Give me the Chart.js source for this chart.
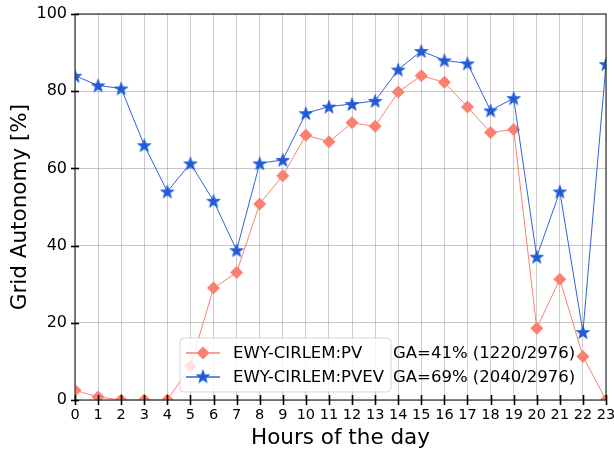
<!DOCTYPE html>
<html>
<head>
<meta charset="utf-8">
<script src="https://cdn.jsdelivr.net/npm/chart.js@4"></script>
<style>
    html, body { margin: 0; padding: 0; background: #fff; }
    #wrap { width: 614px; height: 453px; }
</style>
</head>
<body>
<div id="wrap"><canvas id="ga-chart" width="614" height="453"></canvas></div>
<script>
const hours = ['0', '1', '2', '3', '4', '5', '6', '7', '8', '9', '10', '11', '12', '13', '14', '15', '16', '17', '18', '19', '20', '21', '22', '23'];
const pvValues = [2.5, 0.8, 0, 0, 0, 8.8, 29, 33, 50.8, 58.1, 68.6, 66.9, 71.8, 70.9, 79.8, 84, 82.3, 75.9, 69.3, 70.1, 18.6, 31.3, 11.3, 0];
const pvevValues = [84, 81.5, 80.7, 66, 54, 61.3, 51.6, 38.8, 61.3, 62.2, 74.3, 76, 76.7, 77.5, 85.6, 90.4, 88, 87.2, 75, 78.2, 37.1, 54, 17.6, 87];
const seriesNames = ['EWY-CIRLEM:PV', 'EWY-CIRLEM:PVEV'];
const gaNotes = ['GA=41% (1220/2976)', 'GA=69% (2040/2976)'];

const FONT = 'DejaVu Sans, sans-serif';
const salmon = '#fa8072';
const blue = '#1f5bd6';
const blueLine = '#2f63d8';

function starPath(ctx, cx, cy, R) {
    const r = R * 0.4;
    ctx.beginPath();
    for (let i = 0; i < 10; i++) {
        const rad = i % 2 === 0 ? R : r;
        const a = -Math.PI / 2 + i * Math.PI / 5;
        const px = cx + rad * Math.cos(a);
        const py = cy + rad * Math.sin(a);
        if (i === 0) ctx.moveTo(px, py); else ctx.lineTo(px, py);
    }
    ctx.closePath();
}

function makeStar(R) {
    const c = document.createElement('canvas');
    c.width = c.height = Math.ceil(R * 2 + 4);
    const g = c.getContext('2d');
    starPath(g, c.width / 2, c.height / 2 + R * 0.1, R);
    g.fillStyle = blue;
    g.fill();
    g.lineWidth = 0.8;
    g.strokeStyle = blue;
    g.stroke();
    return c;
}
const starImg = makeStar(7);

// frame, centred tick marks and the legend box with the GA figures
const decorations = {
    id: 'decorations',
    afterDatasetsDraw(chart) {
        const { ctx, chartArea: a, scales } = chart;
        ctx.save();
        ctx.strokeStyle = '#333';
        ctx.lineWidth = 1.2;
        ctx.strokeRect(a.left, a.top, a.right - a.left, a.bottom - a.top);

        ctx.strokeStyle = '#000';
        ctx.lineWidth = 1.6;
        scales.x.ticks.forEach((t, i) => {
            const px = Math.round(scales.x.getPixelForTick(i)) + 0.5;
            ctx.beginPath();
            ctx.moveTo(px, a.bottom - 5);
            ctx.lineTo(px, a.bottom + 5);
            ctx.stroke();
        });
        scales.y.ticks.forEach((t, i) => {
            const py = Math.round(scales.y.getPixelForTick(i)) + 0.5;
            ctx.beginPath();
            ctx.moveTo(a.left - 4, py);
            ctx.lineTo(a.left + 4, py);
            ctx.stroke();
        });

        // legend
        const bx = 180, by = 338, bw = 211, bh = 54;
        ctx.beginPath();
        ctx.roundRect(bx, by, bw, bh, 4);
        ctx.fillStyle = 'rgba(255,255,255,0.8)';
        ctx.fill();
        ctx.strokeStyle = 'rgba(204,204,204,0.8)';
        ctx.lineWidth = 1;
        ctx.stroke();

        const rows = [353, 377];
        ctx.font = '16.5px ' + FONT;
        ctx.textBaseline = 'middle';
        ctx.textAlign = 'left';
        rows.forEach((ry, i) => {
            ctx.beginPath();
            ctx.moveTo(186, ry);
            ctx.lineTo(220, ry);
            ctx.strokeStyle = i === 0 ? salmon : blueLine;
            ctx.lineWidth = 1.5;
            ctx.stroke();
            if (i === 0) {
                Chart.helpers.drawPoint(ctx, { pointStyle: 'rectRot', radius: 6.5, borderWidth: 0, rotation: 0 }, 203, ry);
                ctx.fillStyle = salmon;
                ctx.fill();
            } else {
                ctx.drawImage(starImg, 203 - starImg.width / 2, ry - starImg.height / 2 - 0.7);
            }
            ctx.fillStyle = '#000';
            ctx.fillText(seriesNames[i], 233, ry + 1);
            ctx.fillText(gaNotes[i], 393, ry + 1);
        });
        ctx.restore();
    }
};

new Chart(document.getElementById('ga-chart'), {
    type: 'line',
    data: {
        labels: hours,
        datasets: [
            {
                label: seriesNames[0],
                data: pvValues,
                borderColor: salmon,
                backgroundColor: salmon,
                borderWidth: 1,
                pointStyle: 'rectRot',
                pointRadius: 6.5,
                pointBorderWidth: 0,
                pointBackgroundColor: salmon,
                tension: 0,
                clip: 0,
                order: 1,
            },
            {
                label: seriesNames[1],
                data: pvevValues,
                borderColor: blueLine,
                backgroundColor: blue,
                borderWidth: 1,
                pointStyle: starImg,
                pointRadius: 7,
                tension: 0,
                clip: 0,
                order: 0,
            },
        ],
    },
    options: {
        responsive: false,
        animation: false,
        layout: { padding: { top: 14, right: 8, left: 0, bottom: 0 } },
        plugins: { legend: { display: false }, tooltip: { enabled: false } },
        scales: {
            x: {
                offset: false,
                grid: { color: 'rgba(0,0,0,0.2)', lineWidth: 1, drawTicks: false },
                border: { display: false },
                ticks: { color: '#000', font: { family: FONT, size: 14.5 }, padding: 7, maxRotation: 0, autoSkip: false },
                title: { display: true, text: 'Hours of the day', color: '#000', font: { family: FONT, size: 21.5 }, padding: { top: 0, bottom: 2 } },
                afterFit(scale) {
                    scale.height = 53;
                    scale.paddingLeft = 0;
                    scale.paddingRight = 0;
                },
            },
            y: {
                min: 0,
                max: 100,
                grid: { color: 'rgba(0,0,0,0.22)', lineWidth: 1, drawTicks: false },
                border: { display: false },
                ticks: { stepSize: 20, color: '#000', font: { family: FONT, size: 16 }, padding: 8 },
                title: { display: true, text: 'Grid Autonomy [%]', color: '#000', font: { family: FONT, size: 21.5 }, padding: { top: 8, bottom: 0 } },
                afterFit(scale) {
                    scale.width = 75;
                    scale.paddingTop = 0;
                    scale.paddingBottom = 0;
                },
            },
        },
    },
    plugins: [decorations],
});
</script>
</body>
</html>
